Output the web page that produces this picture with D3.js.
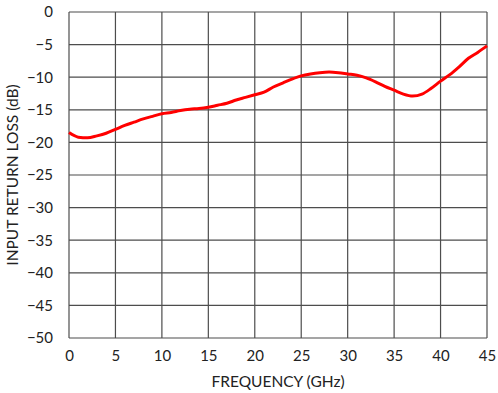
<!DOCTYPE html>
<html>
<head>
<meta charset="utf-8">
<script src="https://cdn.jsdelivr.net/npm/d3@7"></script>
<style>
  body { margin: 0; background: #fff; }
  text { font-family: Lato, "Open Sans", sans-serif; fill: #222; }
</style>
</head>
<body>
<div id="chart"></div>
<script>
// frequency points (GHz) and return loss (dB)
const freq = [0, 1, 2, 3, 4, 5, 6, 7, 8, 9, 10, 11, 12, 13, 14, 15, 16, 17, 18, 19, 20, 21, 22,
              23, 24, 25, 26, 27, 28, 29, 30, 31, 32, 33, 34, 35, 36, 37, 38, 39, 40, 41, 42, 43, 44, 45];
const returnLoss = [-18.5, -19.2, -19.3, -19.0, -18.6, -18.0, -17.4, -16.9, -16.4, -16.0, -15.6,
                    -15.4, -15.1, -14.9, -14.8, -14.6, -14.3, -14.0, -13.5, -13.1, -12.7, -12.3,
                    -11.5, -10.9, -10.3, -9.8, -9.5, -9.3, -9.2, -9.3, -9.5, -9.7, -10.1, -10.7,
                    -11.4, -12.0, -12.6, -12.9, -12.6, -11.7, -10.6, -9.6, -8.4, -7.1, -6.2, -5.2];
const xTicks = [0, 5, 10, 15, 20, 25, 30, 35, 40, 45];
const yTicks = [0, -5, -10, -15, -20, -25, -30, -35, -40, -45, -50];

const data = freq.map((f, i) => ({ f: f, v: returnLoss[i] }));

const margin = { top: 12, right: 11, bottom: 55, left: 69 },
      width = 498 - margin.left - margin.right,
      height = 393 - margin.top - margin.bottom;

const svg = d3.select("#chart")
    .append("svg")
    .attr("width", 498)
    .attr("height", 393)
  .append("g")
    .attr("transform", `translate(${margin.left},${margin.top})`);

const x = d3.scaleLinear().domain([0, 45]).range([0, width]);
const y = d3.scaleLinear().domain([-50, 0]).range([height, 0]);

// grid lines
svg.append("g")
    .selectAll("line")
    .data(xTicks)
    .enter()
    .append("line")
    .attr("x1", d => x(d)).attr("x2", d => x(d))
    .attr("y1", 0).attr("y2", height)
    .attr("stroke", "#4d4d4d")
    .attr("stroke-width", 1.2);

svg.append("g")
    .selectAll("line")
    .data(yTicks)
    .enter()
    .append("line")
    .attr("x1", 0).attr("x2", width)
    .attr("y1", d => y(d)).attr("y2", d => y(d))
    .attr("stroke", "#4d4d4d")
    .attr("stroke-width", 1.2);

// X axis labels
svg.append("g")
    .attr("transform", `translate(0,${height})`)
    .call(d3.axisBottom(x).tickValues(xTicks).tickSize(0).tickPadding(12))
    .call(g => g.select(".domain").remove())
    .selectAll("text")
    .style("font-size", "15px")
    .attr("fill", "#222");

// Y axis labels
svg.append("g")
    .call(d3.axisLeft(y).tickValues(yTicks).tickSize(0).tickPadding(16))
    .call(g => g.select(".domain").remove())
    .selectAll("text")
    .style("font-size", "15px")
    .attr("fill", "#222");

svg.selectAll(".tick text").style("font-family", "Lato, 'Open Sans', sans-serif");

// axis titles
svg.append("text")
    .attr("text-anchor", "middle")
    .attr("transform", `translate(${-51},${height / 2}) rotate(-90)`)
    .style("font-size", "15.5px")
    .text("INPUT RETURN LOSS (dB)");

svg.append("text")
    .attr("text-anchor", "middle")
    .attr("transform", `translate(${width / 2},${height + 49})`)
    .style("font-size", "15.5px")
    .text("FREQUENCY (GHz)");

// curve
svg.append("path")
    .datum(data)
    .attr("fill", "none")
    .attr("stroke", "#ff0000")
    .attr("stroke-width", 3)
    .attr("stroke-linejoin", "round")
    .attr("d", d3.line()
        .curve(d3.curveMonotoneX)
        .x(d => x(d.f))
        .y(d => y(d.v))
    );
</script>
</body>
</html>
